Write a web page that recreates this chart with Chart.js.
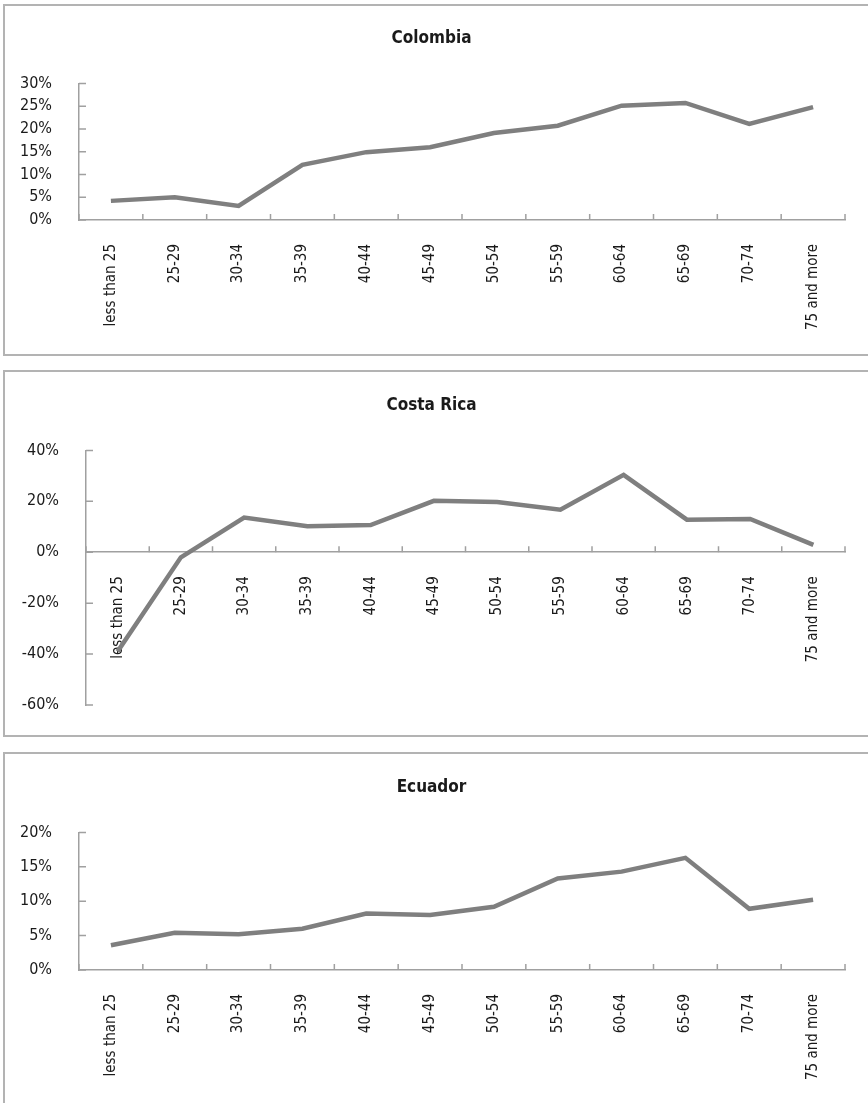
<!DOCTYPE html>
<html>
<head>
<meta charset="utf-8">
<script src="https://cdn.jsdelivr.net/npm/chart.js@4.4.1/dist/chart.umd.min.js"></script>
<style>
    html, body { margin: 0; padding: 0; background: #fff; overflow: hidden; }
    body { width: 868px; height: 1103px; position: relative; }
    .panel { position: absolute; left: 3px; width: 900px; border: 2px solid #b3b3b3; box-sizing: border-box; }
    .chartBox { position: absolute; left: 0; width: 868px; }
</style>
</head>
<body>
<div class="panel" style="top:4px;height:352px;"></div>
<div class="panel" style="top:370px;height:367px;"></div>
<div class="panel" style="top:752px;height:400px;"></div>

<div class="chartBox" style="top:4px;height:351px;"><canvas id="colombiaChart"></canvas></div>
<div class="chartBox" style="top:371px;height:365px;"><canvas id="costaRicaChart"></canvas></div>
<div class="chartBox" style="top:753px;height:360px;"><canvas id="ecuadorChart"></canvas></div>

<script>
// Age groups on the x axis
const ageGroups = ["less than 25", "25-29", "30-34", "35-39", "40-44", "45-49",
                   "50-54", "55-59", "60-64", "65-69", "70-74", "75 and more"];

// Values in percent
const colombiaValues  = [4.2, 5.0, 3.1, 12.1, 14.9, 16.0, 19.1, 20.7, 25.1, 25.7, 21.1, 24.8];
const costaRicaValues = [-39, -2.0, 13.6, 10.2, 10.7, 20.2, 19.7, 16.7, 30.4, 12.8, 13.1, 2.9];
const ecuadorValues   = [3.6, 5.4, 5.2, 6.0, 8.2, 8.0, 9.2, 13.3, 14.3, 16.3, 8.9, 10.2];

// Y axis ranges: [min, max, step]
const colombiaTicks  = [0, 30, 5];
const costaRicaTicks = [-60, 40, 20];
const ecuadorTicks   = [0, 20, 5];

const lineColor = "#7f7f7f";
const axisColor = "#a0a0a0";
const textColor = "#1a1a1a";
const fontFamily = "'DejaVu Sans Condensed', 'Liberation Sans Narrow', sans-serif";

// Excel-style tick marks drawn inside the plot area
const insideTicks = {
    id: "insideTicks",
    beforeDatasetsDraw(chart) {
        const ctx = chart.ctx;
        const xs = chart.scales.x;
        const ys = chart.scales.y;
        const base = ys.getPixelForValue(0); // x axis crosses at 0
        ctx.save();
        ctx.strokeStyle = axisColor;
        ctx.lineWidth = 1.5;
        ctx.beginPath();
        for (let i = 0; i <= chart.data.labels.length; i++) {
            const px = xs.getPixelForValue(i - 0.5);
            ctx.moveTo(px, base);
            ctx.lineTo(px, base - 6);
        }
        ys.ticks.forEach(t => {
            const py = ys.getPixelForValue(t.value);
            ctx.moveTo(ys.right, py);
            ctx.lineTo(ys.right + 7, py);
        });
        ctx.stroke();
        ctx.restore();
    }
};

// left padding 18 keeps the title near its reference centre;
// the y axis width makes up the rest of the distance to the axis line
function makeChart(id, title, values, ticks, yWidth, padBottom, xAtZero) {
    const ctx = document.getElementById(id).getContext("2d");
    return new Chart(ctx, {
        type: "line",
        data: {
            labels: ageGroups,
            datasets: [{
                data: values,
                borderColor: lineColor,
                borderWidth: 4.5,
                pointRadius: 0,
                tension: 0,
                fill: false
            }]
        },
        options: {
            responsive: true,
            maintainAspectRatio: false,
            animation: false,
            layout: { padding: { top: 0, left: 18, right: 23, bottom: padBottom } },
            plugins: {
                legend: { display: false },
                tooltip: { enabled: false },
                title: {
                    display: true,
                    text: title,
                    color: textColor,
                    font: { family: fontFamily, size: 17, weight: "bold" },
                    padding: { top: 24, bottom: 35 }
                }
            },
            scales: {
                x: {
                    type: "category",
                    offset: true,
                    position: xAtZero ? { y: 0 } : "bottom",
                    grid: { display: false, offset: true },
                    border: { display: true, color: axisColor, width: 1.5 },
                    ticks: {
                        color: textColor,
                        font: { family: fontFamily, size: 15 },
                        minRotation: 90,
                        maxRotation: 90,
                        autoSkip: false,
                        padding: 16
                    },
                    afterFit: scale => { scale.height = 110; }
                },
                y: {
                    min: ticks[0],
                    max: ticks[1],
                    grid: { display: false },
                    border: { display: true, color: axisColor, width: 1.5 },
                    ticks: {
                        stepSize: ticks[2],
                        autoSkip: false,
                        color: textColor,
                        font: { family: fontFamily, size: 16 },
                        padding: 19,
                        callback: v => v + "%"
                    },
                    afterFit: scale => { scale.width = yWidth; }
                }
            }
        },
        plugins: [insideTicks]
    });
}

makeChart("colombiaChart", "Colombia", colombiaValues, colombiaTicks, 61, 25, false);
makeChart("costaRicaChart", "Costa Rica", costaRicaValues, costaRicaTicks, 68, 31, true);
makeChart("ecuadorChart", "Ecuador", ecuadorValues, ecuadorTicks, 61, 33, false);
</script>
</body>
</html>
